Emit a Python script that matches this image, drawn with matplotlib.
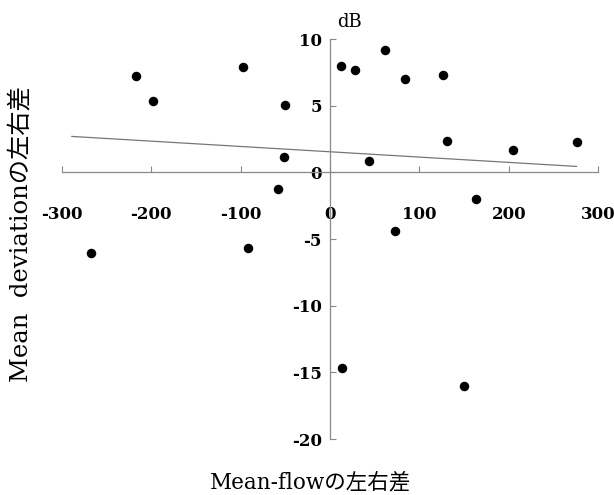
import matplotlib
matplotlib.use("Agg")
import matplotlib.pyplot as plt

# Mean-flow difference (x) vs Mean deviation difference (y)
flow_diff = [-267.8, -217.5, -198.7, -97.6, -91.5, -58.6, -52.0, -49.9,
             11.8, 13.1, 27.6, 43.3, 61.3, 73.0, 84.0, 126.0, 130.9,
             150.0, 163.7, 204.8, 276.0]
md_diff = [-6.07, 7.25, 5.37, 7.93, -5.67, -1.26, 1.18, 5.09,
           8.0, -14.68, 7.68, 0.83, 9.19, -4.43, 6.98, 7.33, 2.34,
           -16.05, -1.96, 1.69, 2.27]

# regression line as drawn in the picture
trend_x = [-289, 276]
trend_y = [2.70, 0.45]

x_ticks = [-300, -200, -100, 0, 100, 200, 300]
y_ticks = [-20, -15, -10, -5, 0, 5, 10]

plt.rcParams['font.family'] = ['DejaVu Serif', 'Noto Sans CJK JP']
plt.rcParams['axes.unicode_minus'] = False

fig = plt.figure(figsize=(6.14, 4.95), dpi=100)
ax = fig.add_axes([0.101, 0.113, 0.873, 0.808])

ax.plot(trend_x, trend_y, color="#777777", lw=0.9)
ax.scatter(flow_diff, md_diff, s=34, color="black", zorder=3)

ax.set_xlim(-300, 300)
ax.set_ylim(-20, 10)
ax.set_xticks(x_ticks)
ax.set_yticks(y_ticks)

for s in ["top", "right"]:
    ax.spines[s].set_visible(False)
ax.spines["left"].set_position(("data", 0))
ax.spines["bottom"].set_position(("data", 0))
for s in ["left", "bottom"]:
    ax.spines[s].set_color("#888888")
    ax.spines[s].set_linewidth(0.9)

ax.tick_params(axis="both", direction="in", length=4, color="#888888",
               labelsize=12)
ax.tick_params(axis="x", pad=24)
ax.tick_params(axis="y", pad=6)
for lab in ax.get_xticklabels() + ax.get_yticklabels():
    lab.set_fontweight("bold")

ax.text(22, 10.6, "dB", ha="center", va="bottom", fontsize=13)

fig.text(0.505, 0.026, "Mean-flowの左右差", ha="center", va="center",
         fontsize=15.5)
fig.text(0.036, 0.528, "Mean  deviationの左右差", ha="center", va="center",
         rotation=90, fontsize=17.5)

fig.savefig("out.png", dpi=100)
